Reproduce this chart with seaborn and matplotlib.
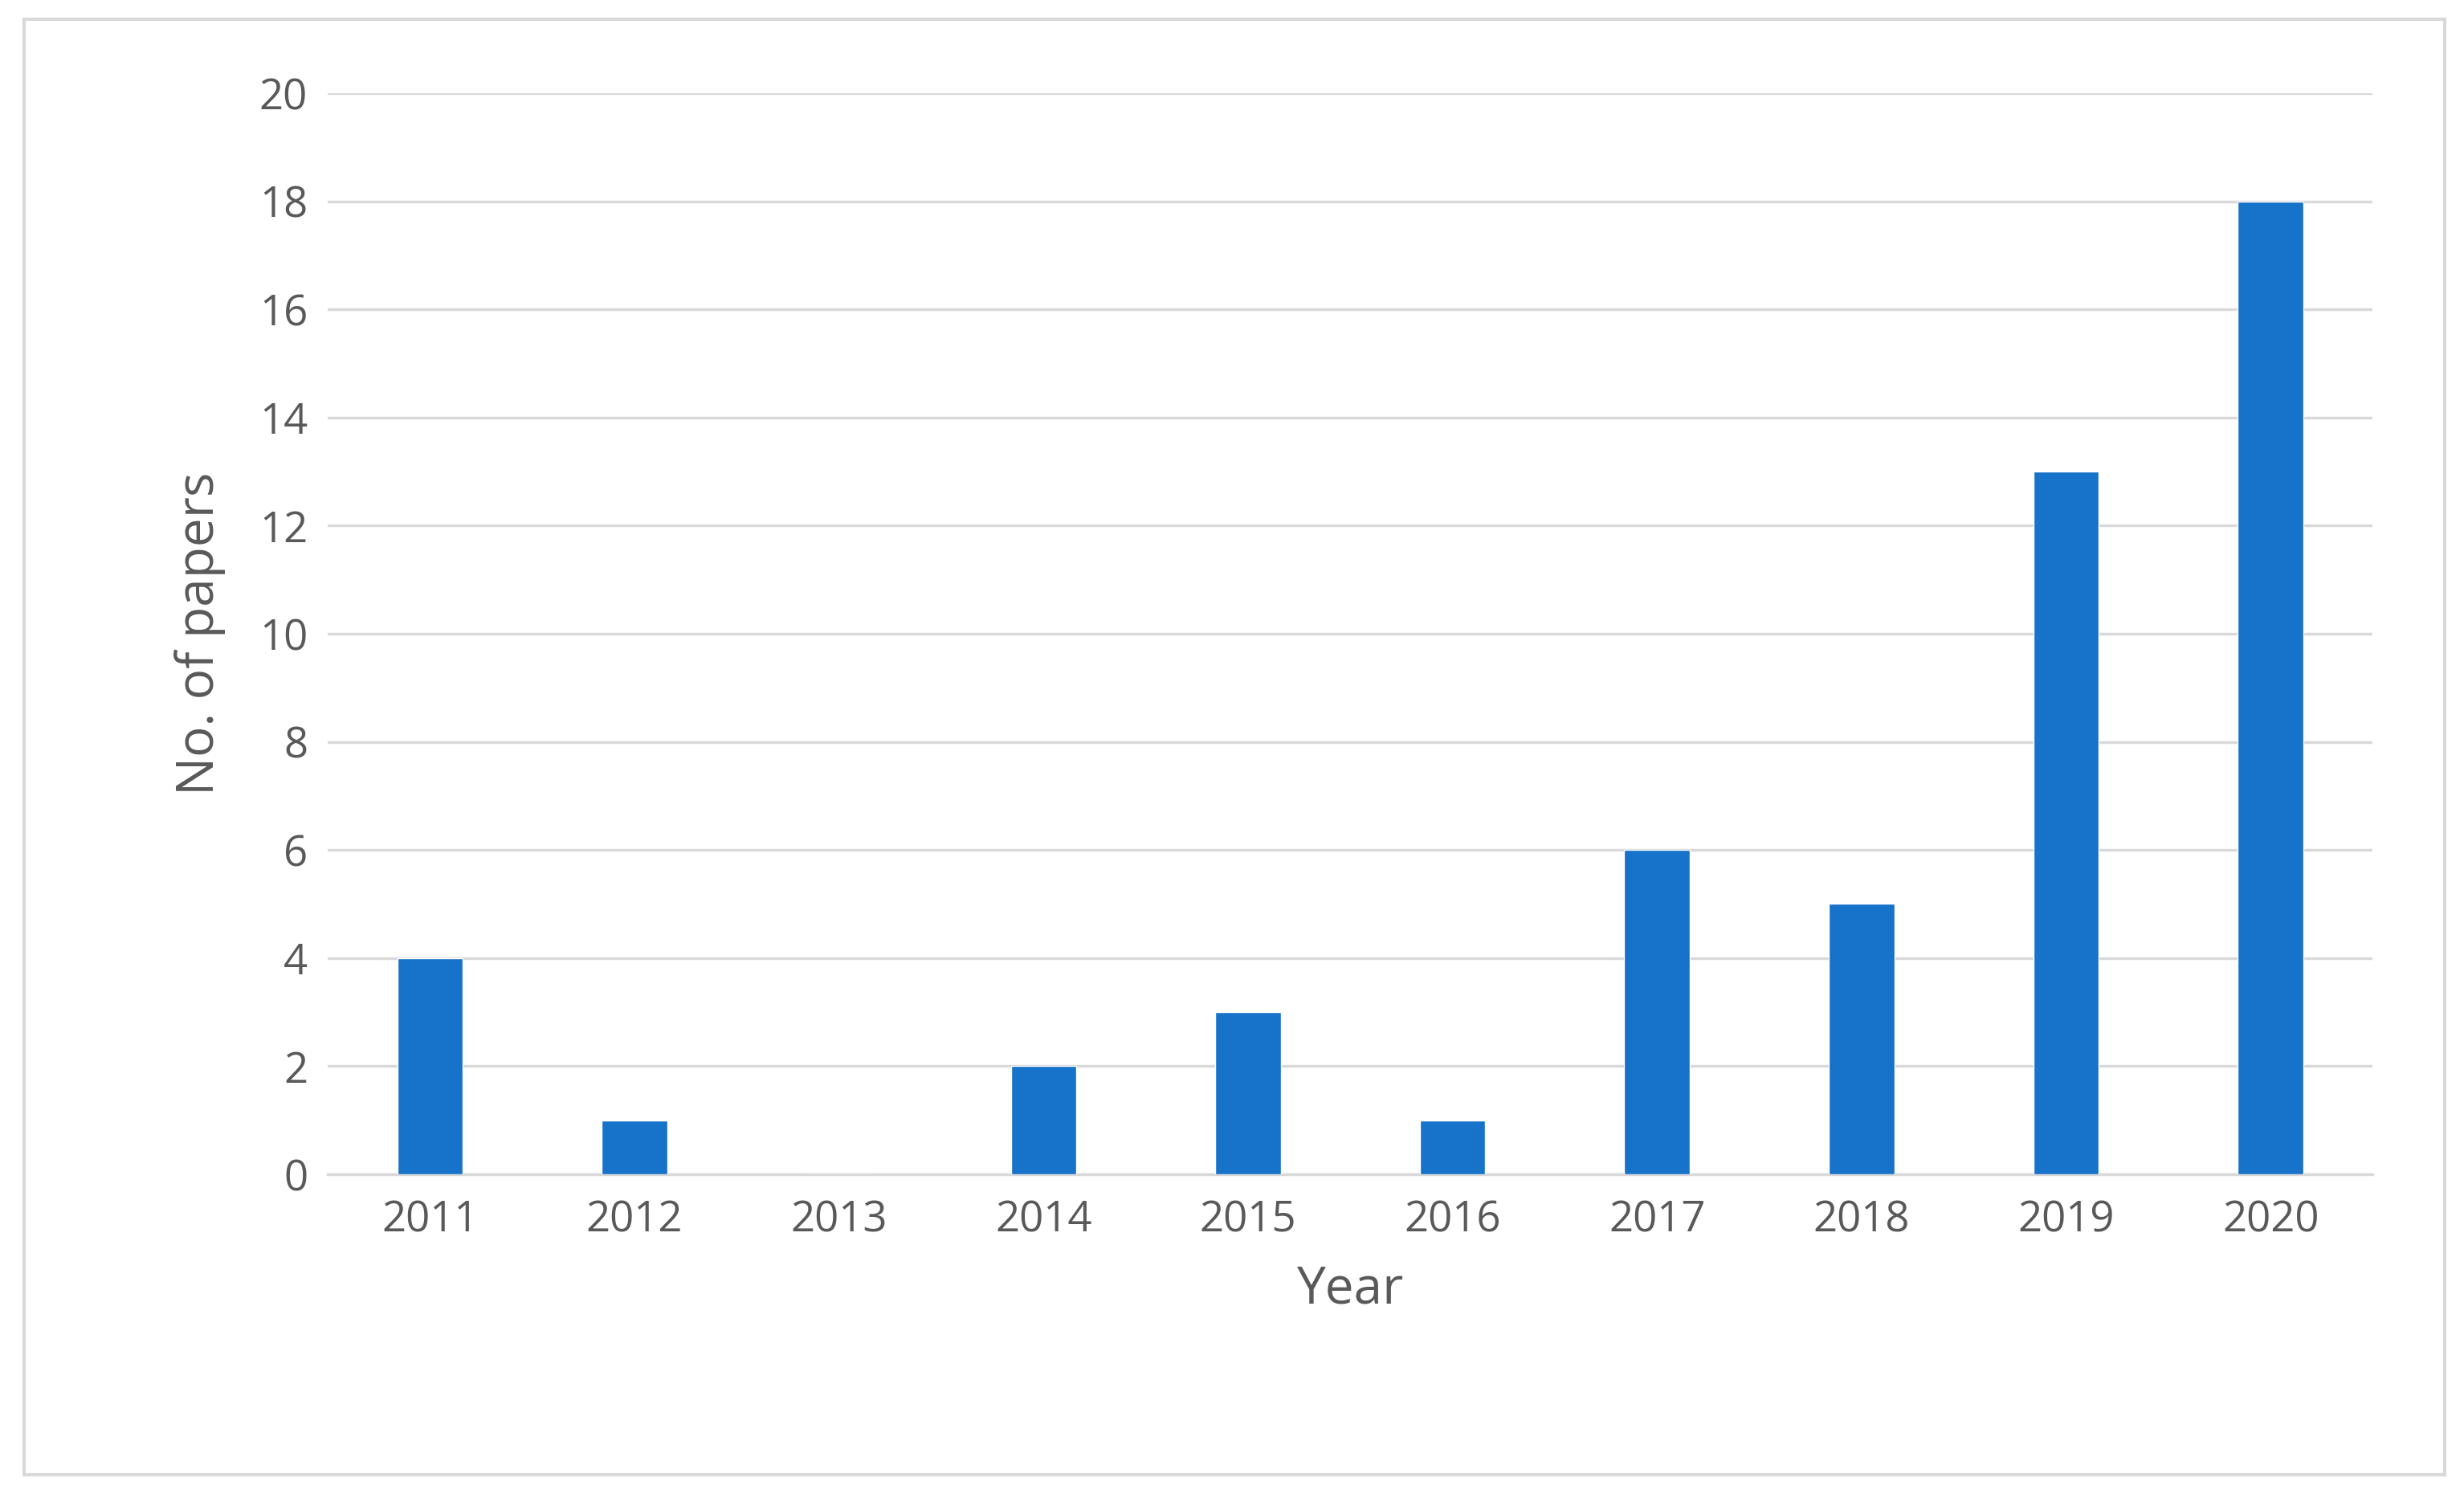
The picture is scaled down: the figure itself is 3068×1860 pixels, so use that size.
import matplotlib
matplotlib.use('Agg')
import matplotlib.pyplot as plt
import seaborn as sns
import pandas as pd
from matplotlib.patches import Rectangle

# data
years = ['2011', '2012', '2013', '2014', '2015', '2016', '2017', '2018', '2019', '2020']
papers = [4, 1, 0, 2, 3, 1, 6, 5, 13, 18]

sns.set_style('white')
plt.rcParams['font.family'] = ['Open Sans', 'DejaVu Sans']

df = pd.DataFrame({'year': years, 'papers': papers})

fig = plt.figure(figsize=(30.68, 18.6), dpi=100)
ax = fig.add_axes([0.133, 0.214, 0.830, 0.7236])

sns.barplot(data=df, x='year', y='papers', color='#1772C9', width=0.32,
            saturation=1, ax=ax, zorder=3)

ax.set_ylim(0, 20)
ax.set_xlim(-0.5, 9.5)
ax.set_yticks(range(0, 21, 2))
ax.grid(axis='y', color='#D9D9D9', linewidth=2.5, zorder=0)
ax.set_axisbelow(True)
for s in ['top', 'right', 'left']:
    ax.spines[s].set_visible(False)
ax.spines['bottom'].set_color('#D9D9D9')
ax.spines['bottom'].set_linewidth(2.5)
ax.tick_params(axis='both', length=0, labelsize=38, colors='#595959', pad=18)
ax.tick_params(axis='x', pad=22)
ax.set_xlabel('Year', fontsize=46, color='#595959', labelpad=20)
ax.set_ylabel('No. of papers', fontsize=46, color='#595959', labelpad=30)

fig.patches.append(Rectangle((15 / 1560, 12 / 945), 1533 / 1560, 921 / 945,
                             transform=fig.transFigure, fill=False,
                             edgecolor='#D9D9D9', linewidth=3))

fig.savefig('out.png', dpi=100)
